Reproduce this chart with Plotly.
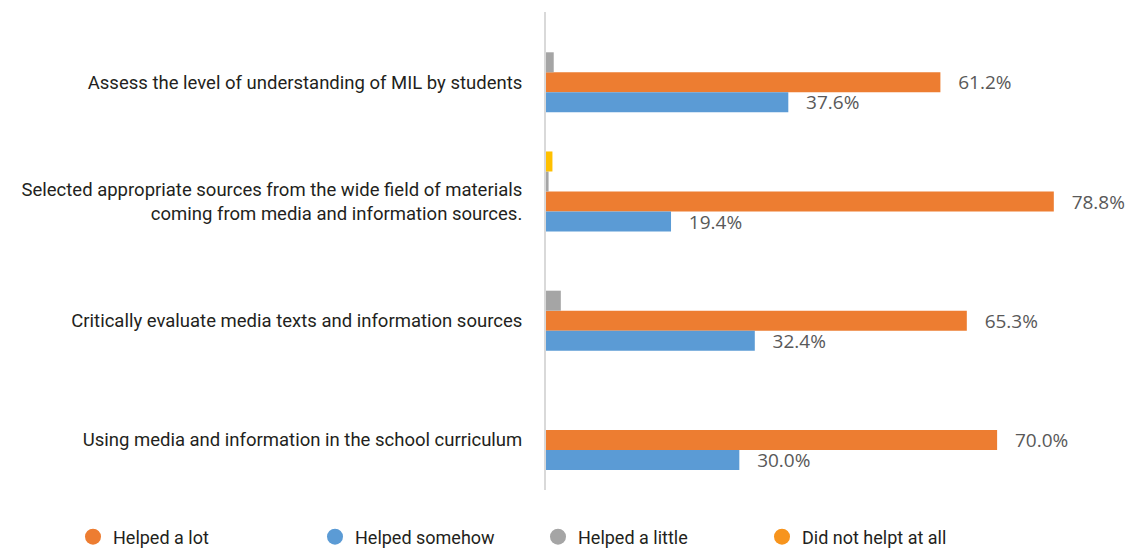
import plotly.graph_objects as go

# Survey items, listed top to bottom as they appear on the chart
categories = [
    "Assess the level of understanding of MIL by students",
    "Selected appropriate sources from the wide field of materials<br>coming from media and information sources.",
    "Critically evaluate media texts and information sources",
    "Using media and information in the school curriculum",
]

helped_a_lot = [61.2, 78.8, 65.3, 70.0]
helped_somehow = [37.6, 19.4, 32.4, 30.0]
helped_a_little = [1.2, 0.4, 2.3, 0.0]
did_not_help = [0.0, 1.0, 0.0, 0.0]

series_names = ["Helped a lot", "Helped somehow", "Helped a little", "Did not helpt at all"]
bar_colors = ["#ED7D31", "#5B9BD5", "#A5A5A5", "#FFC000"]
legend_colors = ["#ED7D31", "#5B9BD5", "#A5A5A5", "#F7941D"]

label_font = "Roboto, 'Noto Sans', sans-serif"
value_font = "'Open Sans', 'Noto Sans', sans-serif"

BAR_W = 0.168
# bar slots within a category, from bottom (blue) to top (yellow)
offsets = {
    "Helped somehow": -1.5 * BAR_W,
    "Helped a lot": -0.5 * BAR_W,
    "Helped a little": 0.5 * BAR_W,
    "Did not helpt at all": 1.5 * BAR_W,
}

values = {
    "Helped a lot": helped_a_lot,
    "Helped somehow": helped_somehow,
    "Helped a little": helped_a_little,
    "Did not helpt at all": did_not_help,
}

fig = go.Figure()

pad = "\u00a0\u00a0\u00a0"
for name, color in zip(series_names, bar_colors):
    labelled = name in ("Helped a lot", "Helped somehow")
    fig.add_trace(go.Bar(
        y=categories,
        x=values[name],
        orientation="h",
        name=name,
        marker=dict(color=color, line=dict(width=0)),
        width=BAR_W,
        offset=offsets[name],
        showlegend=False,
        texttemplate=(pad + "%{x:.1f}%") if labelled else None,
        textposition="outside" if labelled else "none",
        constraintext="none",
        textfont=dict(family=value_font, size=19, color="#595959"),
        cliponaxis=False,
        hoverinfo="x+name",
    ))

# Circle legend entries, each in its own legend box along the bottom
legend_x = [93, 335, 558, 782]
legend_ids = ["legend", "legend2", "legend3", "legend4"]
for name, color, lid in zip(series_names, legend_colors, legend_ids):
    fig.add_trace(go.Scatter(
        x=[None], y=[None],
        mode="markers",
        marker=dict(symbol="circle", size=16, color=color),
        name=name,
        legend=lid,
        showlegend=True,
        hoverinfo="skip",
    ))

layout_legends = {}
for lid, cx in zip(legend_ids, legend_x):
    layout_legends[lid] = dict(
        xref="container", yref="container",
        x=(cx - 20) / 1137, y=(549 - 537) / 549,
        xanchor="left", yanchor="middle",
        bgcolor="rgba(0,0,0,0)",
        borderwidth=0,
        font=dict(family=label_font, size=18, color="#231F20"),
        itemclick=False, itemdoubleclick=False,
    )

fig.update_layout(
    width=1137, height=549,
    margin=dict(l=546, r=11, t=12, b=59, autoexpand=False),
    barmode="overlay",
    plot_bgcolor="white",
    paper_bgcolor="white",
    **layout_legends,
)

fig.update_xaxes(
    range=[0, 90],
    showgrid=False, zeroline=False,
    showticklabels=False, ticks="",
    fixedrange=True,
)
fig.update_yaxes(
    categoryorder="array",
    categoryarray=list(reversed(categories)),
    range=[-0.42, 3.59],
    showgrid=False, zeroline=False,
    showline=True, linecolor="#D9D9D9", linewidth=2,
    ticks="", ticklabelstandoff=18,
    tickfont=dict(family=label_font, size=18.5, color="#231F20"),
    automargin=False,
    fixedrange=True,
)

fig.write_html("out.html")
